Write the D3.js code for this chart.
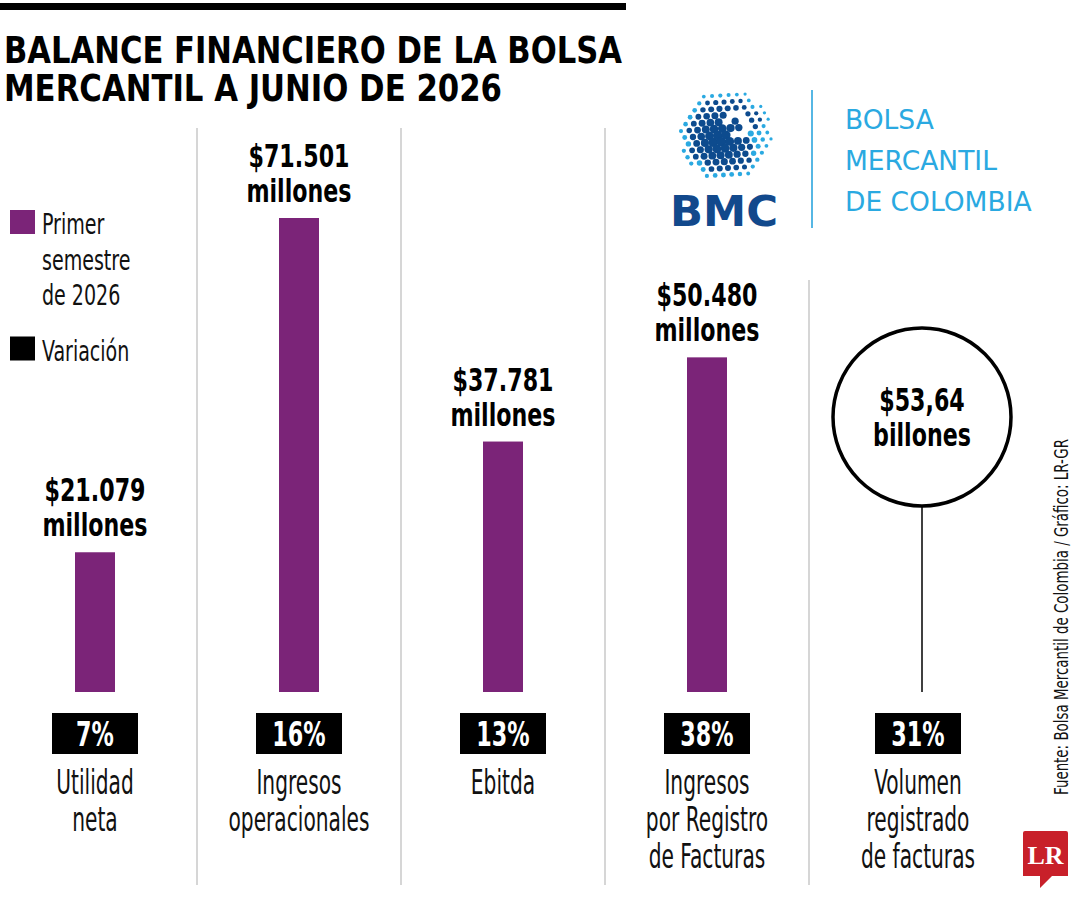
<!DOCTYPE html>
<html>
<head>
<meta charset="utf-8">
<script src="https://cdn.jsdelivr.net/npm/d3@7"></script>
<style>
  html, body { margin: 0; padding: 0; background: #fff; }
  svg { display: block; }
</style>
</head>
<body>
<div id="chart"></div>
<script>
const titleLines = ['BALANCE FINANCIERO DE LA BOLSA', 'MERCANTIL A JUNIO DE 2026'];
const categories = ['Utilidad neta', 'Ingresos operacionales', 'Ebitda', 'Ingresos por Registro de Facturas', 'Volumen registrado de facturas'];
const categoryLines = [['Utilidad', 'neta'], ['Ingresos', 'operacionales'], ['Ebitda'], ['Ingresos', 'por Registro', 'de Facturas'], ['Volumen', 'registrado', 'de facturas']];
const values = [21079, 71501, 37781, 50480];   // millones de pesos, primer semestre
const valueLabels = ['$21.079', '$71.501', '$37.781', '$50.480', '$53,64'];
const unitLabels = ['millones', 'millones', 'millones', 'millones', 'billones'];
const variation = [7, 16, 13, 38, 31];
const legendItems = [
  { lines: ['Primer', 'semestre', 'de 2026'], color: '#7b2478' },
  { lines: ['Variación'], color: '#000' }
];
const logoLines = ['BOLSA', 'MERCANTIL', 'DE COLOMBIA'];
const source = 'Fuente: Bolsa Mercantil de Colombia / Gráfico: LR-GR';

const width = 1080;
const height = 900;
const NARROW = '"Liberation Sans Narrow", "DejaVu Sans Condensed", "Arial Narrow", sans-serif';
const PURPLE = '#7b2478';

// no condensed face like the original's, so squeeze the text horizontally
function squeeze(sel, k) {
  sel.each(function() {
    const len = this.getComputedTextLength();
    d3.select(this)
      .attr('textLength', len * k)
      .attr('lengthAdjust', 'spacingAndGlyphs');
  });
}

const svg = d3.select('#chart').append('svg')
  .attr('width', width)
  .attr('height', height);

// top rule + title
svg.append('rect')
  .attr('x', 0).attr('y', 3)
  .attr('width', 626).attr('height', 7)
  .attr('fill', '#000');

svg.append('g')
  .selectAll('text')
  .data(titleLines)
  .enter().append('text')
  .attr('x', 4)
  .attr('y', (d, i) => 63 + i * 38)
  .attr('font-family', NARROW)
  .attr('font-weight', 'bold')
  .attr('font-size', 37)
  .attr('textLength', (d, i) => i === 0 ? 618 : 498)
  .attr('lengthAdjust', 'spacingAndGlyphs')
  .text(d => d);

// columns
const x = d3.scalePoint()
  .domain(categories)
  .range([95, 911]);

const y = d3.scaleLinear()
  .domain([0, d3.max(values)])
  .range([692, 218]);

const step = x.step();
const lastCat = categories[categories.length - 1];
const colX = c => x(c) + (c === lastCat ? 7 : 0);

// separators
svg.append('g')
  .selectAll('line')
  .data(categories.slice(1))
  .enter().append('line')
  .attr('x1', d => x(d) - step / 2)
  .attr('x2', d => x(d) - step / 2)
  .attr('y1', d => d === lastCat ? 280 : 128)
  .attr('y2', 885)
  .attr('stroke', '#c9c9c9')
  .attr('stroke-width', 1.5);

// bars
const barCats = categories.slice(0, values.length);
svg.append('g')
  .selectAll('rect')
  .data(values)
  .enter().append('rect')
  .attr('x', (d, i) => x(barCats[i]) - 20)
  .attr('y', d => y(d))
  .attr('width', 40)
  .attr('height', d => y(0) - y(d))
  .attr('fill', PURPLE);

// volume circle (last column)
const circX = colX(lastCat) + 4;
const circY = 417;
const circR = 89;
svg.append('line')
  .attr('x1', circX).attr('x2', circX)
  .attr('y1', circY + circR).attr('y2', y(0))
  .attr('stroke', '#000')
  .attr('stroke-width', 1.5);
svg.append('circle')
  .attr('cx', circX).attr('cy', circY).attr('r', circR)
  .attr('fill', '#fff')
  .attr('stroke', '#000')
  .attr('stroke-width', 3.5);

// value labels above bars / inside circle
const valueG = svg.append('g')
  .attr('font-family', NARROW)
  .attr('font-weight', 'bold')
  .attr('font-size', 32)
  .attr('text-anchor', 'middle');

values.forEach((v, i) => {
  const cx = x(barCats[i]);
  valueG.append('text')
    .attr('x', cx)
    .attr('y', y(v) - 51)
    .text(valueLabels[i]);
  valueG.append('text')
    .attr('x', cx)
    .attr('y', y(v) - 16)
    .text(unitLabels[i]);
});
valueG.append('text')
  .attr('x', circX).attr('y', circY - 6)
  .text(valueLabels[4]);
valueG.append('text')
  .attr('x', circX).attr('y', circY + 29)
  .text(unitLabels[4]);
squeeze(valueG.selectAll('text'), 0.77);

// variation boxes
const varG = svg.append('g')
  .selectAll('g')
  .data(variation)
  .enter().append('g')
  .attr('transform', (d, i) => `translate(${colX(categories[i])},0)`);

varG.append('rect')
  .attr('x', -43)
  .attr('y', 713)
  .attr('width', 86)
  .attr('height', 41)
  .attr('fill', '#000');

varG.append('text')
  .attr('y', 746)
  .attr('text-anchor', 'middle')
  .attr('font-family', NARROW)
  .attr('font-weight', 'bold')
  .attr('font-size', 33)
  .attr('fill', '#fff')
  .text(d => `${d}%`)
  .call(squeeze, 0.75);

// category labels
const catRows = categoryLines.flatMap((lines, i) => lines.map((t, j) => ({ t, cat: categories[i], j })));
svg.append('g')
  .selectAll('text')
  .data(catRows)
  .enter().append('text')
  .attr('x', d => colX(d.cat))
  .attr('y', d => 794 + d.j * 37)
  .attr('text-anchor', 'middle')
  .attr('font-family', NARROW)
  .attr('font-size', 33)
  .attr('fill', '#111')
  .text(d => d.t)
  .call(squeeze, 0.68);

// legend
const legend = svg.append('g')
  .attr('font-family', NARROW)
  .attr('font-size', 29)
  .attr('fill', '#111');

let ly = 210;
legendItems.forEach(item => {
  legend.append('rect')
    .attr('x', 10).attr('y', ly)
    .attr('width', 25).attr('height', 24)
    .attr('fill', item.color);
  item.lines.forEach((t, j) => {
    legend.append('text')
      .attr('x', 42)
      .attr('y', ly + 24 + j * 35.5)
      .text(t);
  });
  ly += item.lines.length * 35.5 + 20;
});
squeeze(legend.selectAll('text'), 0.73);

// BMC logo: halftone sphere
const logo = svg.append('g');
const sx = 726, sy = 135, sR = 46;
const dots = [];
const ang = -30 * Math.PI / 180;
for (let i = -8; i <= 8; i++) {
  for (let j = -8; j <= 8; j++) {
    const gx = i * 7.4, gy = j * 7.4 + (i % 2 ? 3.7 : 0);
    const px = gx * Math.cos(ang) - gy * Math.sin(ang);
    const py = gx * Math.sin(ang) + gy * Math.cos(ang);
    const d = Math.hypot(px, py);
    if (d > sR) continue;
    // white swoosh opening to the right
    const sw = Math.hypot(px - 10, py + 11);
    if (sw > 8 && sw < 14 && !(px < 4 && py > -3)) continue;
    const shade = 1 - Math.hypot(px + 8, py - 6) / (sR * 1.75);
    const rim = Math.sqrt(Math.max(0, 1 - Math.pow(d / sR, 2) * 0.75));
    const r = Math.max(0.9, 0.9 + 4.2 * shade * rim);
    const light = d / sR > 0.82 || (px > 24 && py > -6);
    dots.push({ x: sx + px, y: sy + py, r, c: light ? '#2aa9e1' : '#0d4b8e' });
  }
}
logo.selectAll('circle')
  .data(dots)
  .enter().append('circle')
  .attr('cx', d => d.x)
  .attr('cy', d => d.y)
  .attr('r', d => d.r)
  .attr('fill', d => d.c);

logo.append('text')
  .attr('x', 724).attr('y', 226)
  .attr('text-anchor', 'middle')
  .attr('font-family', '"DejaVu Sans", sans-serif')
  .attr('font-weight', 'bold')
  .attr('font-size', 42)
  .attr('textLength', 108)
  .attr('lengthAdjust', 'spacingAndGlyphs')
  .attr('fill', '#12498c')
  .text('BMC');

logo.append('line')
  .attr('x1', 812).attr('x2', 812)
  .attr('y1', 90).attr('y2', 228)
  .attr('stroke', '#56b7e4')
  .attr('stroke-width', 2);

logo.selectAll('text.l')
  .data(logoLines)
  .enter().append('text')
  .attr('class', 'l')
  .attr('x', 845)
  .attr('y', (d, i) => 129 + i * 41)
  .attr('font-family', '"DejaVu Sans", sans-serif')
  .attr('font-size', 26.5)
  .attr('fill', '#2aa9e1')
  .text(d => d);

// source, vertical
svg.append('text')
  .attr('transform', 'translate(1068,617) rotate(-90)')
  .attr('text-anchor', 'middle')
  .attr('font-family', NARROW)
  .attr('font-size', 20)
  .attr('textLength', 356)
  .attr('lengthAdjust', 'spacingAndGlyphs')
  .attr('fill', '#111')
  .text(source);

// LR badge
const lr = svg.append('g');
lr.append('path')
  .attr('d', 'M1025,831 H1066 Q1068,831 1068,833 V876 H1052 L1040,888 L1040,876 H1023 V833 Q1023,831 1025,831 Z')
  .attr('fill', '#c8202a');
lr.append('text')
  .attr('x', 1045.5).attr('y', 864)
  .attr('text-anchor', 'middle')
  .attr('font-family', '"Liberation Serif", "DejaVu Serif", serif')
  .attr('font-weight', 'bold')
  .attr('font-size', 26)
  .attr('fill', '#fff')
  .text('LR');
</script>
</body>
</html>
